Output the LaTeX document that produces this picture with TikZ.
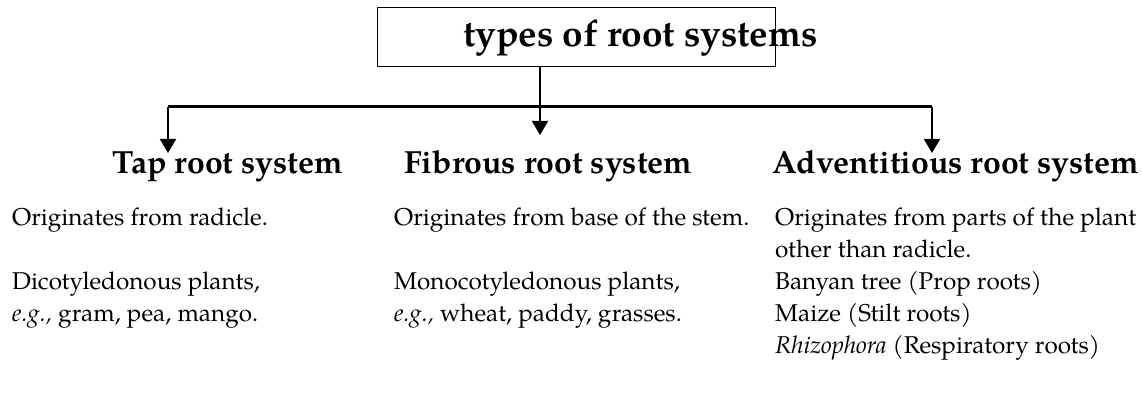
\documentclass[tikz,border=0pt]{standalone}
\usepackage{fontspec}
\setmainfont{TeX Gyre Pagella}
\usetikzlibrary{positioning,arrows.meta}

\tikzset{
  heading/.style={font=\fontsize{32}{38}\selectfont\bfseries, inner sep=0pt, anchor=base west},
  bodytext/.style={font=\fontsize{24.3}{32}\selectfont, inner sep=0pt, anchor=base west},
  branch/.style={line width=2pt, -{Triangle[width=16pt,length=14pt]}},
}

\begin{document}
\begin{tikzpicture}[x=1pt, y=1pt]
    \useasboundingbox (0,0) rectangle (1142,406);
    % title box and its text
    \node[draw, line width=1pt, minimum width=398pt, minimum height=59pt, inner sep=0pt] (titlebox) at (576,368.5) {};
    \node[heading, font=\fontsize{37}{42}\selectfont\bfseries] (title) at (463,359) {types of root systems};

    % branch points
    \coordinate (hubmid) at (540,271);
    \coordinate (hubleft) at (168,299);
    \coordinate (hubright) at (932,299);
    \coordinate (tipleft) at (168,253);
    \coordinate (tipright) at (932,253);

    \draw[branch] (titlebox.south -| hubmid) -- (hubmid);
    \draw[line width=3pt] (hubleft) -- (hubright);
    \draw[branch] (hubleft) -- (tipleft);
    \draw[branch] (hubright) -- (tipright);

    % headings
    \node[heading] (tap) at (112,232) {Tap root system};
    \node[heading] (fibrous) at (404,232) {Fibrous root system};
    \node[heading] (advent) at (772,232) {Adventitious root system};

    % tap root column
    \node[bodytext] (taporigin) at (12,180) {Originates from radicle.};
    \node[bodytext] (tapplants) at (12,116) {Dicotyledonous plants,};
    \node[bodytext] (tapeg) at (12,84) {\textit{e.g.,} gram, pea, mango.};

    % fibrous root column
    \node[bodytext] (fiborigin) at (394,180) {Originates from base of the stem.};
    \node[bodytext] (fibplants) at (394,116) {Monocotyledonous plants,};
    \node[bodytext] (fibeg) at (394,84) {\textit{e.g.,} wheat, paddy, grasses.};

    % adventitious root column
    \node[bodytext] (advorigin) at (775,180) {Originates from parts of the plant};
    \node[bodytext] (advorigintwo) at (775,148) {other than radicle.};
    \node[bodytext] (advbanyan) at (775,116) {Banyan tree (Prop roots)};
    \node[bodytext] (advmaize) at (775,84) {Maize (Stilt roots)};
    \node[bodytext] (advrhizo) at (775,52) {\textit{Rhizophora} (Respiratory roots)};
\end{tikzpicture}
\end{document}
